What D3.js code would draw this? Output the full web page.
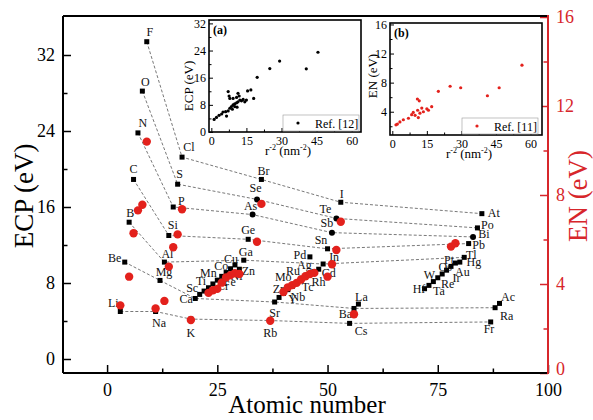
<!DOCTYPE html>
<html>
<head>
<meta charset="utf-8">
<script src="https://cdn.jsdelivr.net/npm/d3@7/dist/d3.min.js"></script>
<style>
  body { margin: 0; background: #fff; }
  text { font-family: "Liberation Serif", "Times New Roman", serif; }
</style>
</head>
<body>
<div class="chart"></div>
<script>
// element data
var symbols = ["Li","Be","B","C","N","O","F","Na","Mg","Al","Si","P","S","Cl",
  "K","Ca","Sc","Ti","V","Cr","Mn","Fe","Co","Ni","Cu","Zn","Ga","Ge","As","Se","Br",
  "Rb","Sr","Y","Zr","Nb","Mo","Tc","Ru","Rh","Pd","Ag","Cd","In","Sn","Sb","Te","I",
  "Cs","Ba","La","Hf","Ta","W","Re","Os","Ir","Pt","Au","Hg","Tl","Pb","Bi","Po","At",
  "Fr","Ra","Ac"];
var atomicNumber = [3,4,5,6,7,8,9,11,12,13,14,15,16,17,
  19,20,21,22,23,24,25,26,27,28,29,30,31,32,33,34,35,
  37,38,39,40,41,42,43,44,45,46,47,48,49,50,51,52,53,
  55,56,57,72,73,74,75,76,77,78,79,80,81,82,83,84,85,
  87,88,89];
var ecp = [5.0,10.2,14.4,18.9,23.8,28.2,33.4,5.0,8.27,10.2,13.0,16.0,18.4,21.25,
  4.2,6.37,6.8,7.15,7.5,7.9,8.3,8.7,9.1,9.5,9.9,9.45,10.4,12.6,15.2,16.8,18.9,
  4.05,6.0,6.48,6.9,7.3,7.65,8.06,8.5,8.8,10.75,9.2,9.45,10.0,11.6,13.3,14.8,16.5,
  3.75,5.32,5.78,7.4,7.75,8.15,8.55,8.95,9.35,9.75,10.1,10.2,10.7,12.15,12.85,13.8,15.3,
  3.9,5.4,5.85];
var en = [3.04,null,4.33,6.28,7.31,7.56,10.4,2.9,null,3.24,4.78,5.65,6.23,7.36,
  2.38,null,null,null,3.6,3.72,3.78,4.06,4.3,4.4,4.48,4.45,null,null,null,5.9,7.6,
  2.35,null,null,3.64,3.85,3.95,4.05,4.2,4.35,4.45,4.5,null,null,4.33,4.89,5.53,6.8,
  null,2.64,null,null,null,null,null,null,null,5.68,5.83,null,null,null,null,null,null,
  null,null,null];
var roundMarkers = ["As","Se","Sb","Te","Bi"];
var groups = [
  ["Li","Na","K","Rb","Cs","Fr"],
  ["Be","Mg","Ca","Sr","Ba","Ra"],
  ["B","Al","Ga","In","Tl"],
  ["C","Si","Ge","Sn","Pb"],
  ["N","P","As","Sb","Bi"],
  ["O","S","Se","Te","Po"],
  ["F","Cl","Br","I","At"]
];

// inset (a): ECP vs r^-2, Ref. [12]
var insetA_r2 = [1.2,2.2,3.3,4.4,5.0,6.1,6.5,7.2,7.9,8.6,9.3,10.0,10.8,11.4,12.2,12.9,13.6,14.3,15.0,
  9.3,7.9,7.6,10.8,11.9,10.0,11.0,9.0,7.2,11.4,15.5,16.9,18.1,19.6,25.0,29.2,40.6,45.6];
var insetA_ecp = [3.7,4.3,4.9,5.3,5.9,6.0,4.7,6.2,7.0,7.5,8.0,8.3,8.6,8.9,9.4,9.2,9.6,8.9,9.4,
  9.9,9.9,10.6,10.2,10.6,7.5,7.3,6.7,11.9,11.4,12.1,12.4,9.9,16.1,18.7,20.9,18.6,23.5];
// inset (b): EN vs r^-2, Ref. [11]
var insetB_r2 = [1.6,2.2,3.3,4.8,7.0,8.4,9.1,9.9,11.3,11.0,12.0,12.8,13.5,15.0,15.7,17.1,10.9,11.7,
  20.0,25.1,29.7,41.3,46.4,56.3];
var insetB_en = [2.2,2.3,2.6,2.9,3.1,3.6,3.9,3.5,3.2,4.2,3.8,4.5,4.0,4.4,4.2,4.7,5.75,5.5,
  6.8,7.5,7.3,6.2,7.3,10.4];

var xTicks = [0,25,50,75,100];
var ecpTicks = [0,8,16,24,32];
var enTicks = [0,4,8,12,16];
var insetXTicks = [0,15,30,45,60];

// label placement relative to the marker (dx, dy of text baseline centre)
var labelPos = {
  F:[3,-6], O:[3,-5], N:[5,-6], C:[0,-6], B:[1,-5], Be:[-10,0], Li:[-7,-5], Na:[3.5,15],
  Mg:[4,-4], Al:[3,-4], Si:[4,-7], P:[8,-2], S:[2,-6], Cl:[7,-6], K:[0,18], Ca:[-9,5],
  Sc:[-7.5,-2], Ti:[-3,-6], Mn:[-9,-3.5], Co:[-5,-3], Cu:[-4,-2], Zn:[9,6], Cr:[10,6],
  Fe:[8,10], Ni:[6,11], Ga:[2,-4], Ge:[0,-5], As:[-2,-4.5], Se:[-1.5,-7], Br:[2,-4],
  Rb:[0,16], Sr:[0,15], Y:[13.5,6], Zr:[-5,0], Nb:[10,11], Mo:[-9,-5], Tc:[11,9],
  Ru:[-8,-3], Rh:[13,11], Pd:[-10,2.5], Ag:[-10,-3], Cd:[10,8], In:[11,-3], Sn:[-6.5,-4.5],
  Sb:[-5,-6], Te:[-11,-5], I:[1,-4.5], Cs:[11.5,12], Ba:[-8.5,10], La:[3,-3], Hf:[-5.5,4],
  Ta:[10,10], W:[-4,-2.5], Re:[10,10.5], Os:[3,-3], Ir:[10,11.5], Pt:[-2,-2], Au:[7,13],
  Hg:[14,4], Tl:[7,2], Pb:[10,5], Bi:[11,1.5], Po:[10,1], At:[12,3.5], Fr:[-1.7,11.5],
  Ra:[11.7,12.7], Ac:[8.5,-2]
};

var RED = "#e3211c";
var AXRED = "#d7262b";

var width = 593, height = 420;
var plot = {left: 63, top: 16, right: 548, bottom: 373};

var svg = d3.select(".chart").append("svg")
  .attr("width", width).attr("height", height);

var x = d3.scaleLinear().domain([-10, 100]).range([plot.left, plot.right]);
var yL = d3.scaleLinear().domain([0, 32]).range([359, 55]);
var yR = d3.scaleLinear().domain([0, 16]).range([373, 17]);

var elements = symbols.map(function(s, i) {
  return {sym: s, z: atomicNumber[i], ecp: ecp[i], en: en[i]};
});
var bySym = {};
elements.forEach(function(d) { bySym[d.sym] = d; });

// axes
function styleAxis(g, color, size) {
  g.select(".domain").remove();
  g.selectAll("line").attr("stroke", color).attr("stroke-width", 1.5);
  g.selectAll("text").attr("fill", color).style("font-size", size + "px")
    .style("font-family", '"Liberation Serif", "Times New Roman", serif');
}

var gx = svg.append("g").attr("transform", "translate(0," + plot.bottom + ")")
  .call(d3.axisBottom(x).tickValues(xTicks).tickSize(-8).tickPadding(10));
styleAxis(gx, "#000", 18);
var gxm = svg.append("g").attr("transform", "translate(0," + plot.bottom + ")")
  .call(d3.axisBottom(x).tickValues([12.5,37.5,62.5,87.5]).tickSize(-4.5).tickFormat(""));
styleAxis(gxm, "#000", 18);

var gyl = svg.append("g").attr("transform", "translate(" + plot.left + ",0)")
  .call(d3.axisLeft(yL).tickValues(ecpTicks).tickSize(-8).tickPadding(8));
styleAxis(gyl, "#000", 18);
var gylm = svg.append("g").attr("transform", "translate(" + plot.left + ",0)")
  .call(d3.axisLeft(yL).tickValues([4,12,20,28]).tickSize(-4.5).tickFormat(""));
styleAxis(gylm, "#000", 18);

var gyr = svg.append("g").attr("transform", "translate(" + plot.right + ",0)")
  .call(d3.axisRight(yR).tickValues(enTicks).tickSize(-8).tickPadding(8));
styleAxis(gyr, AXRED, 18);
gyr.selectAll("text").filter(function(d) { return d === 0; }).attr("dy", "0.1em");
var gyrm = svg.append("g").attr("transform", "translate(" + plot.right + ",0)")
  .call(d3.axisRight(yR).tickValues([2,6,10,14]).tickSize(-4.5).tickFormat(""));
styleAxis(gyrm, AXRED, 18);

// frame
svg.append("line").attr("x1", plot.left).attr("x2", plot.right).attr("y1", plot.top).attr("y2", plot.top)
  .attr("stroke", "#000").attr("stroke-width", 2);
svg.append("line").attr("x1", plot.left).attr("x2", plot.right).attr("y1", plot.bottom).attr("y2", plot.bottom)
  .attr("stroke", "#000").attr("stroke-width", 2);
svg.append("line").attr("x1", plot.left).attr("x2", plot.left).attr("y1", plot.top).attr("y2", plot.bottom)
  .attr("stroke", "#000").attr("stroke-width", 2);
svg.append("line").attr("x1", plot.right).attr("x2", plot.right).attr("y1", plot.top - 1).attr("y2", plot.bottom + 1)
  .attr("stroke", AXRED).attr("stroke-width", 2);

// axis titles
svg.append("text").attr("transform", "translate(33,196) rotate(-90)")
  .attr("text-anchor", "middle").style("font-size", "27px").text("ECP (eV)");
svg.append("text").attr("transform", "translate(587,196) rotate(-90)")
  .attr("text-anchor", "middle").style("font-size", "27px").attr("fill", AXRED).text("EN (eV)");
svg.append("text").attr("x", 307).attr("y", 413)
  .attr("text-anchor", "middle").style("font-size", "25px").text("Atomic number");

// dashed group lines
var line = d3.line().x(function(d) { return x(d.z); }).y(function(d) { return yL(d.ecp); });
svg.append("g").selectAll("path").data(groups).enter().append("path")
  .attr("d", function(g) { return line(g.map(function(s) { return bySym[s]; })); })
  .attr("fill", "none").attr("stroke", "#555").attr("stroke-width", 0.8)
  .attr("stroke-dasharray", "3,2");

// ECP markers
var sq = 5;
svg.append("g").selectAll("rect")
  .data(elements.filter(function(d) { return roundMarkers.indexOf(d.sym) < 0; }))
  .enter().append("rect")
  .attr("x", function(d) { return x(d.z) - sq / 2; })
  .attr("y", function(d) { return yL(d.ecp) - sq / 2; })
  .attr("width", sq).attr("height", sq).attr("fill", "#000");
svg.append("g").selectAll("circle")
  .data(elements.filter(function(d) { return roundMarkers.indexOf(d.sym) >= 0; }))
  .enter().append("circle")
  .attr("cx", function(d) { return x(d.z); })
  .attr("cy", function(d) { return yL(d.ecp); })
  .attr("r", 3).attr("fill", "#000");

// labels
svg.append("g").selectAll("text")
  .data(elements.filter(function(d) { return labelPos[d.sym]; }))
  .enter().append("text")
  .attr("x", function(d) { return x(d.z) + labelPos[d.sym][0]; })
  .attr("y", function(d) { return yL(d.ecp) + labelPos[d.sym][1]; })
  .attr("text-anchor", "middle").style("font-size", "12px").attr("fill", "#111")
  .text(function(d) { return d.sym; });

// EN markers
svg.append("g").selectAll("circle")
  .data(elements.filter(function(d) { return d.en !== null; }))
  .enter().append("circle")
  .attr("cx", function(d) { return x(d.z); })
  .attr("cy", function(d) { return yR(d.en); })
  .attr("r", 4.2).attr("fill", RED);

// insets
function inset(opt) {
  var g = svg.append("g");
  var ix = d3.scaleLinear().domain(opt.xDomain).range([opt.left, opt.right]);
  var iy = d3.scaleLinear().domain(opt.yDomain).range([opt.bottom, opt.top]);
  g.append("rect").attr("x", opt.left).attr("y", opt.top)
    .attr("width", opt.right - opt.left).attr("height", opt.bottom - opt.top)
    .attr("fill", "#fff").attr("stroke", "none");

  var ax = g.append("g").attr("transform", "translate(0," + opt.bottom + ")")
    .call(d3.axisBottom(ix).tickValues(insetXTicks).tickSize(-4).tickPadding(4));
  styleAxis(ax, "#000", 12);
  var axm = g.append("g").attr("transform", "translate(0," + opt.bottom + ")")
    .call(d3.axisBottom(ix).tickValues([7.5,22.5,37.5,52.5]).tickSize(-2.5).tickFormat(""));
  styleAxis(axm, "#000", 12);
  var ay = g.append("g").attr("transform", "translate(" + opt.left + ",0)")
    .call(d3.axisLeft(iy).tickValues(opt.yTicks).tickSize(-4).tickPadding(3));
  styleAxis(ay, "#000", 12);
  var aym = g.append("g").attr("transform", "translate(" + opt.left + ",0)")
    .call(d3.axisLeft(iy).tickValues(opt.yMinor).tickSize(-2.5).tickFormat(""));
  styleAxis(aym, "#000", 12);
  g.selectAll("line").attr("stroke-width", 1);

  g.append("rect").attr("x", opt.left).attr("y", opt.top)
    .attr("width", opt.right - opt.left).attr("height", opt.bottom - opt.top)
    .attr("fill", "none").attr("stroke", "#000").attr("stroke-width", 1.6);

  g.append("g").selectAll("circle").data(opt.xs).enter().append("circle")
    .attr("cx", function(d) { return ix(d); })
    .attr("cy", function(d, i) { return iy(opt.ys[i]); })
    .attr("r", 1.6).attr("fill", opt.color);

  // legend
  g.append("rect").attr("x", opt.legX).attr("y", opt.bottom - 17).attr("width", 76).attr("height", 16)
    .attr("fill", "#fff").attr("stroke", "#999").attr("stroke-width", 0.6);
  g.append("circle").attr("cx", opt.legX + 15).attr("cy", opt.bottom - 9).attr("r", 1.6).attr("fill", opt.color);
  g.append("text").attr("x", opt.legX + 32).attr("y", opt.bottom - 4.5)
    .style("font-size", "12px").text(opt.legend);

  g.append("text").attr("x", opt.left + 4).attr("y", opt.top + 14)
    .style("font-size", "12px").style("font-weight", "bold").text(opt.tag);

  g.append("text").attr("transform", "translate(" + opt.yTitleX + "," + opt.yTitleY + ") rotate(-90)")
    .attr("text-anchor", "middle").style("font-size", "13px").text(opt.yTitle);

  var t = g.append("text").attr("x", (opt.left + opt.right) / 2 + 3).attr("y", opt.bottom + 23)
    .attr("text-anchor", "middle").style("font-size", "13px");
  t.append("tspan").text("r");
  t.append("tspan").attr("dy", -5).style("font-size", "8px").text("-2");
  t.append("tspan").attr("dy", 5).text(" (nm");
  t.append("tspan").attr("dy", -5).style("font-size", "8px").text("-2");
  t.append("tspan").attr("dy", 5).text(")");
}

inset({
  left: 209, right: 361, top: 20, bottom: 132,
  xDomain: [-1, 64], yDomain: [0, 33],
  yTicks: [0,8,16,24,32], yMinor: [4,12,20,28],
  xs: insetA_r2, ys: insetA_ecp, color: "#000",
  legX: 283, legend: "Ref. [12]", tag: "(a)",
  yTitle: "ECP (eV)", yTitleX: 193, yTitleY: 86
});
inset({
  left: 390, right: 542, top: 23, bottom: 135,
  xDomain: [-1, 65], yDomain: [0.8, 16.2],
  yTicks: [4,8,12,16], yMinor: [2,6,10,14],
  xs: insetB_r2, ys: insetB_en, color: RED,
  legX: 462, legend: "Ref. [11]", tag: "(b)",
  yTitle: "EN (eV)", yTitleX: 377, yTitleY: 76
});
</script>
</body>
</html>
